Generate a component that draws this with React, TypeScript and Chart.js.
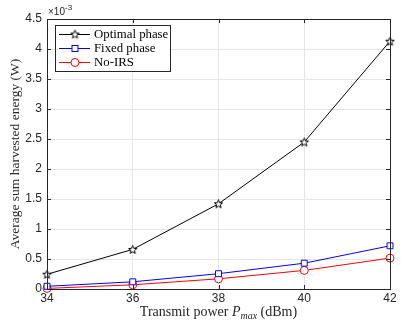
import React, { useEffect, useRef } from "react";
import { Chart, registerables } from "chart.js";

Chart.register(...registerables);

const powers = [34, 36, 38, 40, 42];
// values in units of 1e-3 W
const optimalPhase = [0.245, 0.66, 1.42, 2.45, 4.13];
const fixedPhase = [0.045, 0.12, 0.255, 0.43, 0.72];
const noIRS = [0.01, 0.07, 0.17, 0.31, 0.515];
const seriesNames = ["Optimal phase", "Fixed phase", "No-IRS"];
const seriesColors = ["#000000", "#0000ff", "#ff0000"];
const yTicks = [0, 0.5, 1, 1.5, 2, 2.5, 3, 3.5, 4, 4.5];

const AX = "#262626";
const SERIF = "'Liberation Serif', 'Times New Roman', serif";
const SANS = "'Liberation Sans', Arial, Helvetica, sans-serif";

function makeStar(color: string): HTMLCanvasElement {
  const c = document.createElement("canvas");
  const s = 11;
  c.width = s;
  c.height = s;
  const ctx = c.getContext("2d")!;
  const cx = s / 2, cy = s / 2 + 0.4, ro = 4.4, ri = 1.9;
  ctx.beginPath();
  for (let i = 0; i < 10; i++) {
    const r = i % 2 === 0 ? ro : ri;
    const a = -Math.PI / 2 + (i * Math.PI) / 5;
    const x = cx + r * Math.cos(a), y = cy + r * Math.sin(a);
    if (i === 0) ctx.moveTo(x, y); else ctx.lineTo(x, y);
  }
  ctx.closePath();
  ctx.fillStyle = "#ffffff";
  ctx.fill();
  ctx.strokeStyle = color;
  ctx.lineWidth = 1;
  ctx.stroke();
  return c;
}

export default function App() {
  const ref = useRef<HTMLCanvasElement>(null);
  useEffect(() => {
    document.body.style.margin = "0";
    const star = makeStar(seriesColors[0]);
    const styles: any[] = [star, "rect", "circle"];
    const radii = [5, 4.2, 4];

    const framePlugin = {
      id: "frame",
      afterDraw(chart: any) {
        const { ctx, chartArea: a, scales } = chart;
        const xs = scales.x, ys = scales.y;
        ctx.save();
        ctx.strokeStyle = AX;
        ctx.lineWidth = 1;
        ctx.strokeRect(Math.round(a.left) + 0.5, Math.round(a.top) + 0.5, Math.round(a.right - a.left), Math.round(a.bottom - a.top));
        ctx.beginPath();
        const tl = 4;
        for (const t of xs.ticks) {
          const x = Math.round(xs.getPixelForValue(t.value)) + 0.5;
          ctx.moveTo(x, a.bottom); ctx.lineTo(x, a.bottom - tl);
          ctx.moveTo(x, a.top); ctx.lineTo(x, a.top + tl);
        }
        for (const t of ys.ticks) {
          const y = Math.round(ys.getPixelForValue(t.value)) + 0.5;
          ctx.moveTo(a.left, y); ctx.lineTo(a.left + tl, y);
          ctx.moveTo(a.right, y); ctx.lineTo(a.right - tl, y);
        }
        ctx.stroke();
        // exponent label
        ctx.fillStyle = AX;
        ctx.textBaseline = "alphabetic";
        ctx.textAlign = "left";
        ctx.font = `10px ${SANS}`;
        const base = "\u00d710";
        ctx.fillText(base, a.left + 1, a.top - 4);
        const bw = ctx.measureText(base).width;
        ctx.font = `8px ${SANS}`;
        ctx.fillText("-3", a.left + 1 + bw, a.top - 9);
        // x title with subscript
        const fs = 14;
        const parts: [string, string, number][] = [
          ["Transmit power ", `${fs}px ${SERIF}`, 0],
          ["P", `italic ${fs}px ${SERIF}`, 0],
          ["max", `italic 10px ${SERIF}`, 3],
          [" (dBm)", `${fs}px ${SERIF}`, 0],
        ];
        let total = 0;
        for (const p of parts) { ctx.font = p[1]; total += ctx.measureText(p[0]).width; }
        let x = (a.left + a.right) / 2 - total / 2;
        const by = 315.5;
        for (const p of parts) {
          ctx.font = p[1];
          ctx.fillText(p[0], x, by + p[2]);
          x += ctx.measureText(p[0]).width;
        }
        // legend
        const lx = 55.5, ly = 25.5, lw = 115, lh = 46;
        ctx.fillStyle = "#ffffff";
        ctx.fillRect(lx, ly, lw, lh);
        ctx.strokeStyle = AX;
        ctx.strokeRect(lx, ly, lw, lh);
        for (let i = 0; i < 3; i++) {
          const yy = 34.5 + i * 14;
          ctx.strokeStyle = seriesColors[i];
          ctx.lineWidth = 1;
          ctx.beginPath();
          ctx.moveTo(59, yy); ctx.lineTo(90, yy);
          ctx.stroke();
          if (i === 0) {
            ctx.drawImage(star, 75 - star.width / 2, yy - star.height / 2 - 0.4);
          } else if (i === 1) {
            ctx.fillStyle = "#fff";
            ctx.fillRect(72, yy - 3, 6, 6);
            ctx.strokeRect(72, yy - 3, 6, 6);
          } else {
            ctx.fillStyle = "#fff";
            ctx.beginPath();
            ctx.arc(75, yy, 4, 0, Math.PI * 2);
            ctx.fill();
            ctx.stroke();
          }
          ctx.fillStyle = "#000";
          ctx.font = `12.8px ${SERIF}`;
          ctx.textBaseline = "middle";
          ctx.fillText(seriesNames[i], 94, yy + 0.5);
          ctx.textBaseline = "alphabetic";
        }
        ctx.restore();
      },
    };

    const data = [optimalPhase, fixedPhase, noIRS];
    const chart = new Chart(ref.current!, {
      type: "line",
      data: {
        datasets: data.map((vals, i) => ({
          label: seriesNames[i],
          data: vals.map((v, j) => ({ x: powers[j], y: v })),
          borderColor: seriesColors[i],
          backgroundColor: "#ffffff",
          borderWidth: 1,
          pointStyle: styles[i],
          pointRadius: radii[i],
          pointBorderWidth: 1,
          pointBorderColor: seriesColors[i],
          pointBackgroundColor: "#ffffff",
          tension: 0,
          clip: false as any,
        })),
      },
      options: {
        animation: false,
        responsive: false,
        maintainAspectRatio: false,
        layout: { padding: { top: 19, right: 14, left: 0, bottom: 0 } },
        plugins: { legend: { display: false }, tooltip: { enabled: false } },
        scales: {
          x: {
            type: "linear",
            min: 34,
            max: 42,
            ticks: { stepSize: 2, color: AX, font: { family: SANS, size: 12 }, padding: 2, maxRotation: 0 },
            grid: { color: "#e5e5e5", drawTicks: false, lineWidth: 1 },
            border: { display: false },
            afterFit: (s: any) => { s.height = 32; },
          },
          y: {
            type: "linear",
            min: 0,
            max: 4.5,
            afterBuildTicks: (s: any) => { s.ticks = yTicks.map((v) => ({ value: v })); },
            ticks: { color: AX, font: { family: SANS, size: 12 }, padding: 5, callback: (v: any) => String(v) },
            grid: { color: "#e5e5e5", drawTicks: false, lineWidth: 1 },
            border: { display: false },
            title: {
              display: true,
              text: "Average sum harvested energy (W)",
              color: AX,
              font: { family: SERIF, size: 13.5 },
              padding: { top: 7, bottom: 0 },
            },
            afterFit: (s: any) => { s.width = 47; },
          },
        },
      },
      plugins: [framePlugin],
    });
    return () => chart.destroy();
  }, []);
  return (
    <div style={{ position: "absolute", left: 0, top: 0, width: 404, height: 321 }}>
      <canvas ref={ref} width={404} height={321} style={{ width: 404, height: 321 }} />
    </div>
  );
}
